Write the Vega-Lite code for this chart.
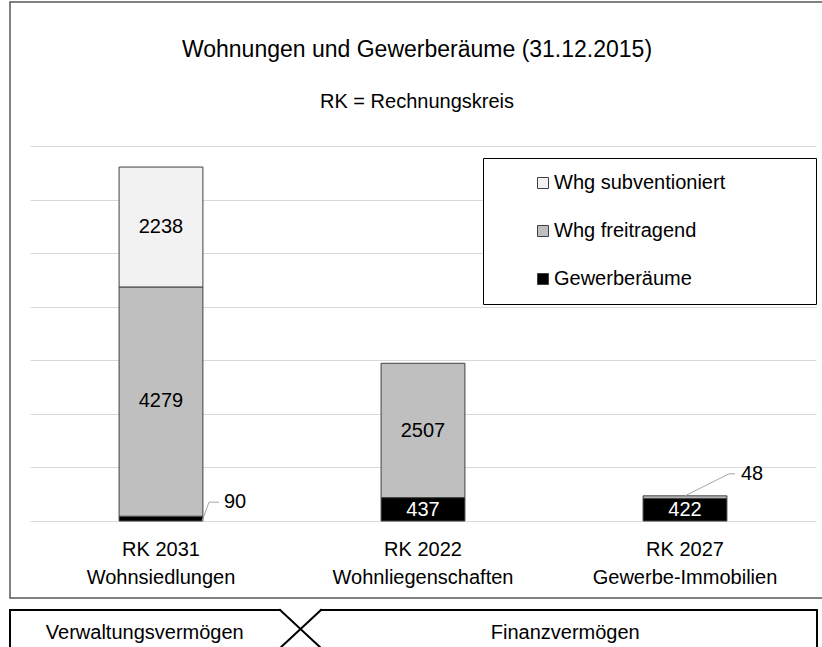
{
  "$schema": "https://vega.github.io/schema/vega-lite/v6.json",
  "padding": {"left": 8, "top": 1, "right": 0, "bottom": 0},
  "spacing": 9,
  "config": {
    "font": "Liberation Sans",
    "legend": {
      "orient": "none",
      "legendX": 473,
      "legendY": 156,
      "padding": 15,
      "symbolOffset": 35,
      "symbolType": "square",
      "symbolSize": 121,
      "symbolStrokeColor": "#404040",
      "symbolStrokeWidth": 1,
      "labelFontSize": 20,
      "labelColor": "#000000",
      "labelOffset": 1,
      "labelLimit": 0,
      "rowPadding": 28,
      "strokeColor": "#000000",
      "fillColor": "#ffffff",
      "titleOrient": "right",
      "titleFontSize": 25.5,
      "titlePadding": 0
    }
  },
  "vconcat": [
    {
      "width": 816,
      "height": 596,
      "view": {"stroke": "#595959", "strokeWidth": 1.5},
      "title": {
        "text": "Wohnungen und Gewerberäume (31.12.2015)",
        "subtitle": "RK = Rechnungskreis",
        "anchor": "start",
        "dx": 407,
        "align": "center",
        "frame": "group",
        "offset": -110,
        "fontSize": 23,
        "fontWeight": "normal",
        "color": "#000000",
        "subtitleFontSize": 20,
        "subtitleColor": "#000000",
        "subtitlePadding": 30
      },
      "data": {
        "values": [
          {"cat": "RK 2031|Wohnsiedlungen", "series": "Gewerberäume", "order": 1, "value": 90},
          {"cat": "RK 2031|Wohnsiedlungen", "series": "Whg freitragend", "order": 2, "value": 4279},
          {"cat": "RK 2031|Wohnsiedlungen", "series": "Whg subventioniert", "order": 3, "value": 2238},
          {"cat": "RK 2022|Wohnliegenschaften", "series": "Gewerberäume", "order": 1, "value": 437},
          {"cat": "RK 2022|Wohnliegenschaften", "series": "Whg freitragend", "order": 2, "value": 2507},
          {"cat": "RK 2027|Gewerbe-Immobilien", "series": "Gewerberäume", "order": 1, "value": 422},
          {"cat": "RK 2027|Gewerbe-Immobilien", "series": "Whg freitragend", "order": 2, "value": 48}
        ]
      },
      "layer": [
        {
          "mark": {"type": "bar", "width": {"band": 0.32}, "stroke": "#404040", "strokeWidth": 1},
          "encoding": {
            "x": {
              "field": "cat",
              "type": "nominal",
              "sort": null,
              "scale": {
                "type": "band",
                "domain": ["RK 2031|Wohnsiedlungen", "RK 2022|Wohnliegenschaften", "RK 2027|Gewerbe-Immobilien"],
                "range": [20, 806],
                "paddingInner": 0,
                "paddingOuter": 0
              },
              "axis": {
                "title": null,
                "domain": false,
                "ticks": false,
                "grid": false,
                "labelAngle": 0,
                "labelPadding": 0,
                "offset": -59,
                "labelFontSize": 20,
                "labelLimit": 0,
                "labelColor": "#000000",
                "labelBaseline": "top",
                "labelLineHeight": 28,
                "labelExpr": "split(datum.label, '|')"
              }
            },
            "y": {
              "field": "value",
              "type": "quantitative",
              "stack": "zero",
              "scale": {"domain": [-1437, 9688], "nice": false, "zero": false},
              "axis": {"grid": true, "gridColor": "#d9d9d9", "values": [0, 1000, 2000, 3000, 4000, 5000, 6000, 7000], "labels": false, "ticks": false, "domain": false, "title": null}
            },
            "order": {"field": "order", "type": "quantitative"},
            "color": {
              "field": "series",
              "type": "nominal",
              "scale": {
                "domain": ["Whg subventioniert", "Whg freitragend", "Gewerberäume"],
                "range": ["#f2f2f2", "#bfbfbf", "#000000"]
              },
              "legend": {"title": "\u2800\u2800\u2800\u2800"}
            }
          }
        },
        {
          "transform": [
            {"window": [{"op": "sum", "field": "value", "as": "cum"}], "groupby": ["cat"], "sort": [{"field": "order", "order": "ascending"}]},
            {"filter": "datum.value == 2238"}
          ],
          "mark": {"type": "text", "fontSize": 20, "color": "#000000", "baseline": "middle", "dy": 60},
          "encoding": {
            "x": {"field": "cat", "type": "nominal"},
            "y": {"field": "cum", "type": "quantitative"},
            "text": {"field": "value", "type": "quantitative"}
          }
        },
        {
          "transform": [
            {"window": [{"op": "sum", "field": "value", "as": "cum"}], "groupby": ["cat"], "sort": [{"field": "order", "order": "ascending"}]},
            {"filter": "datum.value == 4279"}
          ],
          "mark": {"type": "text", "fontSize": 20, "color": "#000000", "baseline": "middle", "dy": 114},
          "encoding": {
            "x": {"field": "cat", "type": "nominal"},
            "y": {"field": "cum", "type": "quantitative"},
            "text": {"field": "value", "type": "quantitative"}
          }
        },
        {
          "transform": [
            {"window": [{"op": "sum", "field": "value", "as": "cum"}], "groupby": ["cat"], "sort": [{"field": "order", "order": "ascending"}]},
            {"filter": "datum.value == 2507"}
          ],
          "mark": {"type": "text", "fontSize": 20, "color": "#000000", "baseline": "middle", "dy": 68},
          "encoding": {
            "x": {"field": "cat", "type": "nominal"},
            "y": {"field": "cum", "type": "quantitative"},
            "text": {"field": "value", "type": "quantitative"}
          }
        },
        {
          "transform": [
            {"filter": "datum.value >= 200 && datum.series == 'Gewerberäume'"}
          ],
          "mark": {"type": "text", "fontSize": 20, "color": "#ffffff", "baseline": "middle", "dy": 12},
          "encoding": {
            "x": {"field": "cat", "type": "nominal"},
            "y": {"field": "value", "type": "quantitative"},
            "text": {"field": "value", "type": "quantitative"}
          }
        },
        {
          "transform": [{"filter": "datum.value == 90"}],
          "mark": {"type": "rule", "color": "#a6a6a6", "strokeWidth": 1, "xOffset": 41, "x2Offset": 48, "yOffset": 5, "y2Offset": -14},
          "encoding": {
            "x": {"field": "cat", "type": "nominal"},
            "x2": {"field": "cat"},
            "y": {"field": "value", "type": "quantitative"},
            "y2": {"field": "value"}
          }
        },
        {
          "transform": [{"filter": "datum.value == 90"}],
          "mark": {"type": "rule", "color": "#a6a6a6", "strokeWidth": 1, "xOffset": 48, "x2Offset": 58, "yOffset": -14, "y2Offset": -14},
          "encoding": {
            "x": {"field": "cat", "type": "nominal"},
            "x2": {"field": "cat"},
            "y": {"field": "value", "type": "quantitative"},
            "y2": {"field": "value"}
          }
        },
        {
          "transform": [{"filter": "datum.value == 90"}],
          "mark": {"type": "text", "fontSize": 20, "color": "#000000", "align": "left", "baseline": "middle", "dx": 63, "dy": -14},
          "encoding": {
            "x": {"field": "cat", "type": "nominal"},
            "y": {"field": "value", "type": "quantitative"},
            "text": {"field": "value", "type": "quantitative"}
          }
        },
        {
          "transform": [
            {"joinaggregate": [{"op": "sum", "field": "value", "as": "total"}], "groupby": ["cat"]},
            {"filter": "datum.value == 48"}
          ],
          "mark": {"type": "rule", "color": "#a6a6a6", "strokeWidth": 1, "xOffset": 0, "x2Offset": 44, "y2Offset": -22},
          "encoding": {
            "x": {"field": "cat", "type": "nominal"},
            "x2": {"field": "cat"},
            "y": {"field": "total", "type": "quantitative"},
            "y2": {"field": "total"}
          }
        },
        {
          "transform": [
            {"joinaggregate": [{"op": "sum", "field": "value", "as": "total"}], "groupby": ["cat"]},
            {"filter": "datum.value == 48"}
          ],
          "mark": {"type": "rule", "color": "#a6a6a6", "strokeWidth": 1, "xOffset": 44, "x2Offset": 50, "yOffset": -22, "y2Offset": -22},
          "encoding": {
            "x": {"field": "cat", "type": "nominal"},
            "x2": {"field": "cat"},
            "y": {"field": "total", "type": "quantitative"},
            "y2": {"field": "total"}
          }
        },
        {
          "transform": [
            {"joinaggregate": [{"op": "sum", "field": "value", "as": "total"}], "groupby": ["cat"]},
            {"filter": "datum.value == 48"}
          ],
          "mark": {"type": "text", "fontSize": 20, "color": "#000000", "align": "left", "baseline": "middle", "dx": 56, "dy": -22},
          "encoding": {
            "x": {"field": "cat", "type": "nominal"},
            "y": {"field": "total", "type": "quantitative"},
            "text": {"field": "value", "type": "quantitative"}
          }
        }
      ]
    },
    {
      "width": 807,
      "height": 38,
      "view": {"stroke": null},
      "layer": [
        {
          "data": {
            "values": [
              {"x": 0, "y": 1, "x2": 33.46, "y2": 1},
              {"x": 38.54, "y": 1, "x2": 100, "y2": 1},
              {"x": 0, "y": 0, "x2": 0, "y2": 1},
              {"x": 100, "y": 0, "x2": 100, "y2": 1},
              {"x": 0, "y": 0, "x2": 100, "y2": 0},
              {"x": 33.46, "y": 1, "x2": 38.54, "y2": 0},
              {"x": 38.54, "y": 1, "x2": 33.46, "y2": 0}
            ]
          },
          "mark": {"type": "rule", "color": "#000000", "strokeWidth": 2, "strokeCap": "square"},
          "encoding": {
            "x": {"field": "x", "type": "quantitative", "scale": {"domain": [0, 100], "nice": false, "zero": false}, "axis": null},
            "x2": {"field": "x2"},
            "y": {"field": "y", "type": "quantitative", "scale": {"domain": [0, 1], "nice": false, "zero": false}, "axis": null},
            "y2": {"field": "y2"}
          }
        },
        {
          "data": {
            "values": [
              {"label": "Verwaltungsvermögen", "x": 16.7, "y": 0.39},
              {"label": "Finanzvermögen", "x": 68.8, "y": 0.39}
            ]
          },
          "mark": {"type": "text", "fontSize": 20, "color": "#000000", "baseline": "middle"},
          "encoding": {
            "x": {"field": "x", "type": "quantitative"},
            "y": {"field": "y", "type": "quantitative"},
            "text": {"field": "label", "type": "nominal"}
          }
        }
      ]
    }
  ]
}
